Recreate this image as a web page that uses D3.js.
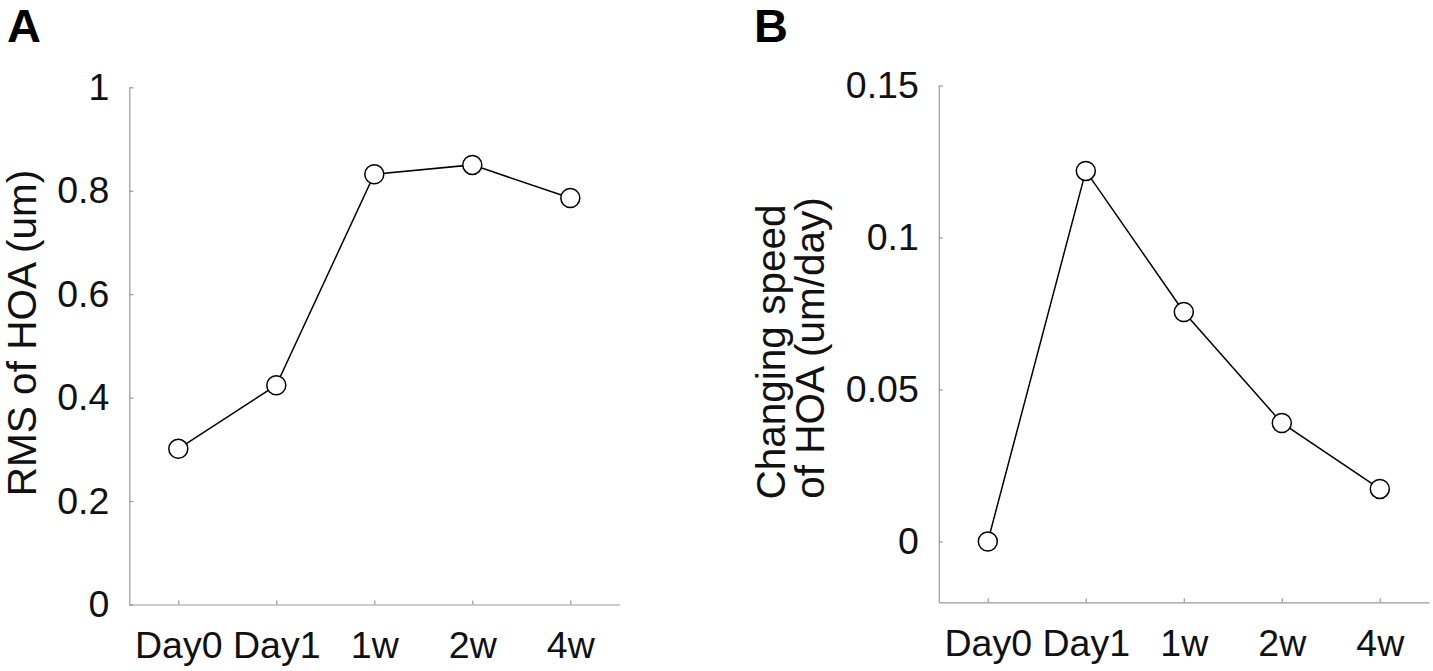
<!DOCTYPE html>
<html>
<head>
<meta charset="utf-8">
<script src="https://cdn.jsdelivr.net/npm/d3@7"></script>
<style>
  html, body { margin: 0; padding: 0; background: #fff; }
  svg { display: block; font-family: "Liberation Sans", Arial, Helvetica, sans-serif; }
  .axis path, .axis line { stroke: #999; stroke-width: 1.2; }
  .axis text { fill: #111; }
</style>
</head>
<body>
<svg id="chart" width="1433" height="671"></svg>
<script>
// ---- data ----
const categories = ["Day0", "Day1", "1w", "2w", "4w"];
const rmsValues = [0.301, 0.424, 0.832, 0.850, 0.786];
const speedValues = [0.0, 0.1219, 0.0755, 0.039, 0.0173];
const rmsTicks = [0, 0.2, 0.4, 0.6, 0.8, 1];
const rmsTickLabels = ["0", "0.2", "0.4", "0.6", "0.8", "1"];
const speedTicks = [0, 0.05, 0.1, 0.15];
const speedTickLabels = ["0", "0.05", "0.1", "0.15"];

const svg = d3.select("#chart");

function panel(opts) {
  const x = d3.scalePoint().domain(categories).range([opts.x0, opts.x1]).padding(0.5);
  const y = d3.scaleLinear().domain(opts.yDomain).range([opts.yBottom, opts.yTop]);
  const g = svg.append("g");

  g.append("g").attr("class", "axis")
    .attr("transform", `translate(0,${opts.yBottom})`)
    .call(d3.axisBottom(x).tickSizeInner(-4).tickSizeOuter(0).tickPadding(27))
    .call(s => s.selectAll("text").attr("font-size", 37.5));

  g.append("g").attr("class", "axis")
    .attr("transform", `translate(${opts.x0},0)`)
    .call(d3.axisLeft(y).tickValues(opts.ticks)
      .tickFormat((d, i) => opts.tickLabels[i])
      .tickSizeInner(-4).tickSizeOuter(0).tickPadding(20))
    .call(s => s.selectAll("text").attr("font-size", 37.5));

  g.selectAll(".axis text").attr("font-family", "Liberation Sans, Arial, sans-serif");

  const line = d3.line().x((d, i) => x(categories[i])).y(d => y(d));
  g.append("path").datum(opts.values)
    .attr("d", line).attr("fill", "none").attr("stroke", "#000").attr("stroke-width", 1.5);

  g.selectAll("circle.pt").data(opts.values).enter().append("circle")
    .attr("class", "pt")
    .attr("cx", (d, i) => x(categories[i])).attr("cy", d => y(d))
    .attr("r", 9.5).attr("fill", "#fff").attr("stroke", "#000").attr("stroke-width", 1.5);

  opts.titles.forEach(t => {
    g.append("text")
      .attr("transform", `translate(${t.x},${t.y}) rotate(-90)`)
      .attr("text-anchor", "middle")
      .attr("font-size", 40.5).attr("fill", "#111")
      .text(t.text);
  });

  svg.append("text").attr("x", opts.letterX).attr("y", 42)
    .attr("font-size", 47).attr("font-weight", "bold").attr("fill", "#000")
    .text(opts.letter);
}

panel({
  x0: 129.3, x1: 619.3, yTop: 87.3, yBottom: 604.5, yDomain: [0, 1],
  ticks: rmsTicks, tickLabels: rmsTickLabels, values: rmsValues,
  titles: [{ x: 36, y: 333, text: "RMS of HOA (um)" }],
  letter: "A", letterX: 7
});

panel({
  x0: 938.8, x1: 1428.8, yTop: 85.5, yBottom: 602.3, yDomain: [-0.02, 0.15],
  ticks: speedTicks, tickLabels: speedTickLabels, values: speedValues,
  titles: [
    { x: 785, y: 352, text: "Changing speed" },
    { x: 824, y: 348, text: "of HOA (um/day)" }
  ],
  letter: "B", letterX: 754
});
</script>
</body>
</html>
